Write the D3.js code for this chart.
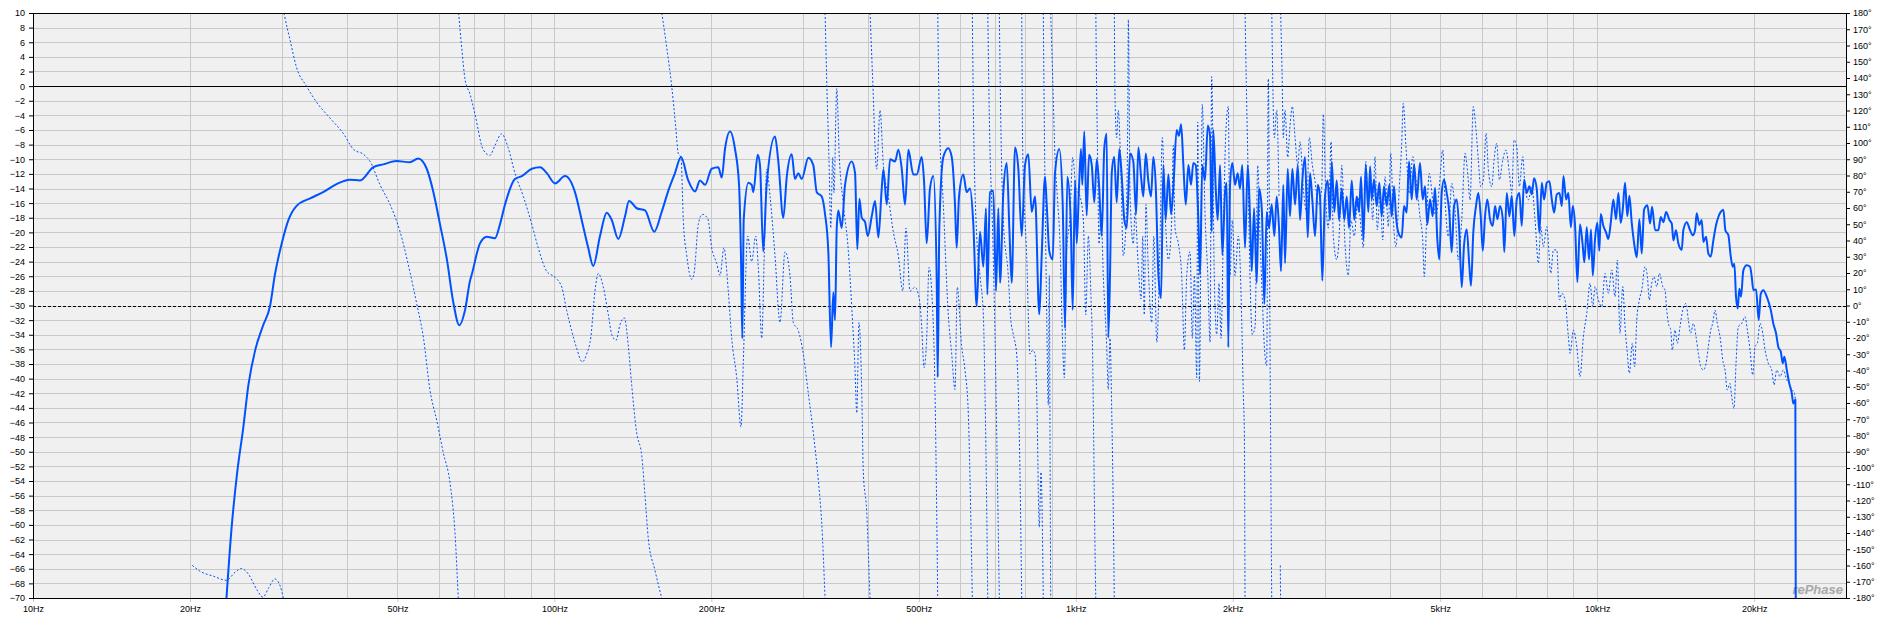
<!DOCTYPE html>
<html>
<head>
<meta charset="utf-8">
<title>Frequency / phase response</title>
<script src="https://d3js.org/d3.v7.min.js"></script>
<style>
  body { margin: 0; background: #fff; }
  .axis text { font-family: "Liberation Sans", Arial, sans-serif; font-size: 9px; fill: #000; }
  .axis line { stroke: #000; }
  .axis.bottom line { stroke: #c8c8c8; }
  .grid line { stroke: #c8c8c8; stroke-width: 1; shape-rendering: crispEdges; }
  .magnitude { fill: none; stroke: #0052ff; stroke-width: 2; stroke-linejoin: round; }
  .phase { fill: none; stroke: #0052ff; stroke-width: 1; stroke-dasharray: 2,2; }
</style>
</head>
<body>
<div id="chart"></div>
<script>

var xTickFreqs = [10, 20, 50, 100, 200, 500, 1000, 2000, 5000, 10000, 20000];
var xTickLabels = ["10Hz", "20Hz", "50Hz", "100Hz", "200Hz", "500Hz", "1kHz", "2kHz", "5kHz", "10kHz", "20kHz"];
var dbTicks = d3.range(-70, 11, 2);
var degTicks = d3.range(-180, 181, 10);

// [Hz, dB]
var magnitudePoints = [
  [23.2,-76],[23.5,-70],[24.05,-60.2],[24.65,-52.7],[25.3,-46.8],[25.9,-40.8],[26.7,-36.0],[27.6,-32.8],[28.5,-30.0],[29.1,-25.8],[30.0,-21.5],[30.9,-18.3],[32.0,-16.4],[34.0,-15.35],[36.0,-14.5],[38.2,-13.4],[40.5,-12.8],[42.4,-12.9],[44.9,-11.1],[47.0,-10.7],[49.8,-10.25],[52.8,-10.4],[54.8,-9.9],[56.9,-11.3],[58.6,-14.5],[60.3,-18.8],[62.2,-23.7],[64.0,-29.6],[65.7,-32.7],[67.4,-30.6],[68.9,-26.6],
  [69.4,-25.8],[72.0,-21.5],[74.2,-20.6],[76.9,-20.8],[78.7,-18.8],[80.4,-16.2],[84.0,-12.7],[86.6,-12.3],[90.5,-11.3],[93.9,-11.1],[96.7,-11.9],[100.3,-13.3],[104.8,-12.3],[109.5,-14.5],[112.8,-18.3],[116.1,-22.1],[118.7,-24.6],[122.3,-20.5],[126.0,-17.3],[128.8,-18.3],[132.6,-20.9],[136.6,-17.8],[139.0,-15.7],[143.8,-16.7],[149.2,-17.0],[155.4,-19.9],[160.6,-17.2],[165.4,-14.3],[170.3,-11.9],[174.9,-9.7],[180.6,-12.9],[186.1,-14.4],[190.2,-12.9],[194.5,-13.5],[200.3,-11.3],[206.2,-11.1],[209.4,-12.5],[212.4,-8.6],[217.2,-6.2],[222.0,-8.6],[226.0,-13.5],[228.0,-23.7],[229.3,-34.5],[230.7,-18.3],[235.5,-13.2],[239.0,-13.5],[240.7,-14.5],[245.4,-9.4],[247.9,-10.8],[251.5,-22.6],[255.3,-13.5],[264.9,-6.9],[268.8,-10.3],[274.8,-18.0],
  [279.0,-12.4],[285.2,-9.3],[289.3,-12.7],[293.6,-11.9],[298.1,-12.7],[306.9,-9.8],[313.7,-10.8],[318.5,-14.5],[325.6,-15.1],[330.4,-17.5],[335.2,-22.6],[339.3,-35.7],[342.7,-28.2],[345.3,-32.0],[347.9,-19.4],[350.4,-17.0],[355.6,-19.4],[360.9,-13.5],[371.7,-10.3],[377.2,-11.9],[381.0,-22.3],[384.5,-15.4],[388.6,-18.0],[394.3,-18.6],[399.0,-20.5],[406.1,-17.8],[412.1,-15.7],[418.1,-20.7],[424.4,-14.0],[427.5,-11.4],[433.9,-16.2],[440.3,-10.0],[450.1,-10.3],[456.7,-8.7],[463.6,-11.3],[470.4,-16.2],[477.3,-8.7],[487.9,-12.1],[495.3,-12.1],[506.3,-9.7],[511.5,-12.9],[517.6,-21.5],[525.2,-14.0],[533.0,-12.3],[541.0,-26.4],[543.4,-39.8],[547.3,-19.4],[557.1,-9.7],[569.4,-8.5],[578.1,-9.7],[586.5,-16.2],[590.9,-22.1],[597.0,-15.1],[608.4,-12.1],[617.6,-14.5],[626.7,-14.0],[635.9,-18.8],[645.5,-30.1],[655.0,-19.9],[664.7,-24.7],[672.6,-16.7],[676.5,-28.5],[684.6,-14.5],[694.6,-14.3],[703.0,-28.0],[710.2,-16.7],[715.6,-26.9],[726.1,-14.5],[737.1,-10.5],[745.6,-19.4],[753.4,-26.9],[764.6,-8.4],[775.8,-11.3],[787.5,-20.5],[799.0,-10.8],[810.7,-9.3],[823.0,-17.2],[835.1,-15.1],[851.1,-31.2],[860.2,-23.1],[872.8,-12.4],[879.4,-16.2],[889.6,-22.6],[903.0,-23.7],[912.2,-11.9],[929.6,-8.6],[943.8,-16.2],[953.5,-33.1],[963.2,-12.4],[977.7,-18.3],[986.3,-30.6],[996.5,-12.9],
  [1004,-21.5],[1014,-14.0],[1023,-8.6],[1029,-13.5],[1038,-6.2],[1049,-17.7],[1060,-9.4],[1073,-10.8],[1085,-15.9],[1097,-10.0],[1108,-13.5],[1121,-20.5],[1134,-8.5],[1146,-6.5],[1154,-34.4],[1163,-25.8],[1172,-11.9],[1185,-9.7],[1198,-15.9],[1212,-8.6],[1225,-12.4],[1239,-18.3],[1252,-19.4],[1271,-9.2],[1289,-10.3],[1305,-17.5],[1318,-8.4],[1334,-12.4],[1347,-15.1],[1362,-9.2],[1377,-12.9],[1394,-15.1],[1408,-9.7],[1423,-13.5],[1440,-25.8],[1457,-29.0],[1472,-10.8],[1487,-18.3],[1505,-12.1],[1523,-17.5],[1538,-14.0],[1561,-6.0],[1577,-6.8],[1592,-5.2],[1608,-10.8],[1625,-16.2],[1644,-10.8],[1663,-13.5],[1680,-10.5],[1698,-10.8],[1718,-18.3],[1731,-25.8],[1748,-10.8],[1769,-12.9],[1791,-5.4],[1809,-6.8],[1822,-19.9],[1835,-6.0],[1855,-14.0],[1871,-18.3],[1891,-10.8],[1910,-23.1],[1933,-14.5],[1947,-13.2],[1961,-35.7],[1976,-13.5],[1996,-10.5],[2020,-13.5],[2044,-11.9],[2065,-14.0],[2086,-10.8],[2111,-22.1],[2137,-10.8],[2158,-17.8],[2175,-25.3],[2197,-16.7],[2223,-26.9],[2246,-14.0],[2273,-16.7],[2299,-29.8],[2323,-17.2],[2347,-19.4],[2375,-16.2],[2403,-20.5],[2428,-15.1],[2453,-19.4],[2475,-25.3],[2500,-13.5],[2519,-24.2],[2549,-11.3],[2575,-17.8],[2602,-11.3],[2633,-16.2],[2665,-10.8],[2692,-18.3],[2719,-12.9],[2752,-9.7],[2785,-20.7],[2813,-11.9],[2842,-15.6],[2876,-20.5],[2911,-13.5],[2940,-15.1],[2970,-26.6],[3005,-15.1],[3042,-12.9],[3073,-18.3],[3096,-10.3],[3132,-17.2],[3165,-12.9],[3198,-18.3],[3236,-14.0],[3273,-18.3],[3308,-15.1],[3342,-19.4],[3382,-12.9],[3421,-18.3],[3457,-15.1],[3493,-17.2],[3524,-12.4],[3560,-21.0],[3598,-10.8],[3639,-17.2],
  [3668,-11.0],[3694,-15.5],[3732,-12.8],[3777,-16.4],[3820,-13.2],[3861,-17.8],[3900,-13.7],[3947,-16.4],[3993,-13.5],[4035,-17.8],[4077,-13.7],[4112,-17.8],[4154,-20.0],[4217,-20.7],[4261,-16.4],[4311,-17.3],[4355,-10.3],[4408,-15.5],[4453,-10.7],[4506,-15.5],[4572,-10.5],[4627,-15.5],[4674,-13.7],[4722,-18.9],[4779,-15.5],[4836,-17.8],[4886,-13.9],[4935,-20.9],[4979,-23.7],[5032,-14.6],[5084,-12.8],[5144,-14.6],[5204,-17.3],[5259,-22.7],[5313,-16.4],[5377,-15.5],[5439,-20.0],[5497,-27.5],[5553,-21.8],[5620,-19.6],[5685,-24.6],[5727,-27.3],[5785,-20.0],[5855,-16.4],[5915,-14.6],[5978,-17.8],[6032,-22.5],[6093,-17.8],[6155,-15.5],[6229,-18.2],[6304,-19.1],[6369,-16.4],[6434,-18.2],[6511,-16.4],[6589,-18.2],[6635,-22.7],[6706,-14.6],[6784,-17.8],[6856,-15.0],[6935,-20.5],[7009,-15.5],[7090,-14.6],[7166,-19.1],[7239,-12.8],[7326,-14.6],[7411,-13.7],[7490,-14.8],[7566,-12.6],[7657,-14.1],[7746,-20.0],[7828,-13.2],[7908,-15.5],[8003,-13.2],[8096,-13.0],[8182,-15.5],[8266,-17.3],[8365,-14.8],[8462,-14.6],[8552,-16.4],[8614,-12.3],[8716,-15.5],[8804,-14.6],[8900,-19.3],[8978,-16.4],[9068,-19.1],[9160,-26.8],[9268,-18.9],[9380,-21.8],[9447,-24.1],[9548,-19.3],[9645,-23.7],[9730,-19.6],[9804,-25.9],[9904,-20.9],[10005,-18.7],[10093,-22.5],[10156,-17.5],[10273,-19.1],[10397,-20.0],[10503,-20.9],[10615,-18.7],[10737,-15.5],[10866,-18.2],[10978,-14.6],[11094,-18.7],[11193,-16.9],[11307,-13.2],[11422,-17.8],[11524,-15.0],[11647,-18.7],[11766,-21.4],[11908,-23.4],[12044,-18.2],
  [12173,-22.9],[12300,-16.9],[12480,-16.3],[12630,-18.8],[12741,-16.5],[12912,-19.7],[13101,-19.7],[13240,-17.9],[13394,-18.6],[13555,-17.2],[13753,-18.3],[13900,-18.8],[13996,-21.1],[14162,-19.7],[14306,-21.5],[14525,-22.4],[14626,-19.7],[14850,-18.6],[15066,-19.7],[15248,-20.4],[15403,-19.7],[15517,-17.4],[15697,-19.0],[15864,-18.3],[15978,-21.3],[16170,-20.6],[16335,-22.9],[16509,-23.3],[16700,-21.1],[16901,-19.0],[17073,-17.9],[17255,-17.2],[17455,-16.9],[17609,-19.7],[17845,-20.4],[18035,-23.3],[18194,-24.7],[18323,-24.3],[18459,-28.8],[18600,-30.4],[18729,-27.7],[18871,-28.8],[19064,-25.2],[19352,-24.5],[19639,-24.7],[19785,-26.1],[19927,-27.9],[20166,-27.8],[20404,-32.0],[20588,-28.4],[20826,-27.9],[21141,-28.8],[21519,-30.6],[21768,-32.5],[22025,-33.8],[22254,-35.7],[22491,-36.3],[22689,-37.9],[22851,-37.0],[23095,-38.8],[23362,-40.7],[23611,-42.0],[23775,-43.4],[23988,-42.9],[24060,-90]
];

// [Hz, degrees], wrapped to +-180
var phasePoints = [
  [20.2,-159.9],[20.9,-163.5],[22.2,-166.6],[23.5,-169.1],[24.4,-164.2],[25.1,-161.8],[25.9,-165.4],[26.9,-175.1],[27.6,-179.5],[28.3,-173.9],[29.1,-168.3],[29.8,-172.7],[30.2,-180],[30.3,180],[30.4,177.6],[31.1,163.8],[32.0,146.8],[33.5,134.7],[35.0,125],[37.1,115.4],[39.4,105.7],[41.2,96],[43.0,93.1],[44.3,88.7],[46.3,74.2],[48.4,62.1],[50.6,45.2],[52.8,21],[54.4,1.6],[56.1,-20.2],[57.7,-51.7],[59.5,-71],[61.2,-90.4],[63.1,-109.8],[64.5,-141.2],[65.4,-180],[65.5,180],[66.4,158.9],[67.4,139],[68.9,130],
  [70.4,117.8],[73.0,96],[75.2,92.4],[76.9,98.4],[79.2,105.7],[81.5,97.2],[84.0,81.5],[87.2,67],[90.5,50],[93.1,35.5],[96.7,21],[100.3,17.3],[103.3,11.3],[105.6,-3.2],[107.9,-15.4],[110.3,-26.2],[113.1,-34.7],[115.3,-29.9],[117.5,-19],[119.6,8.9],[121.4,19.7],[124.1,11.3],[126.9,-5.7],[128.8,-17.8],[131.3,-21.4],[133.6,-11.7],[136.2,-7.6],[138.6,-25],[140.7,-49.2],[143.8,-78.3],[147.1,-92.8],[149.2,-117],[151.4,-143.6],[155.9,-163],[160.6,-180],[160.7,180],[164.2,158.9],[167.9,134.7],[170.8,110.5],[172.8,93.6],[174.9,91.2],[176.7,52.4],[179.4,30.6],[183.4,16.1],[185.5,21],[188.8,50],[192.1,56.1],[196.8,53.6],[200.3,35.5],[204.8,25.8],[207.8,18.5],[211.4,35.5],[215.5,8.9],[218.8,-20.2],[223.7,-44.4],[228.0,-74.7],[230.3,-34.7],[234.8,42.7],[239.0,27],[243.2,42.7],[246.1,23.4],[249.8,-20.2],[252.7,33.1],[255.3,83.9],[259.2,67],[264.9,30.6],[270.8,-10.5],[276.9,33.1],
  [283.0,18.5],[287.2,-10.5],[293.6,-15.4],[300.2,-29.9],[306.9,-54.1],[313.7,-78.3],[320.7,-107.3],[325.6,-134],[330.4,-180],[330.5,180],[332.8,139.6],[336.6,83.9],[338.8,47.6],[341.8,91.2],[343.7,69.4],[347.9,133.5],[351.9,91.2],[358.3,62.1],[366.3,33.1],[371.7,-0.8],[377.2,-39.6],[380.1,-66.2],[383.8,-10.5],[388.6,-54.1],[391.2,-102.5],[397.1,-126.7],[401.7,-167.9],[403.0,-180],[403.1,180],[407.7,139.6],[415.0,83.9],[421.2,120.2],[427.5,86.3],[436.9,67],[446.7,45.2],[456.7,30.6],[465.6,8.9],[472.4,47.6],[480.8,8.9],[491.6,11.3],[501.0,4],[506.3,-12.9],[511.5,-38.3],[517.6,-20.2],[522.9,23.4],[529.2,8.9],[537.0,-54.1],[541.0,-126.7],[543.4,-180],[543.5,180],[547.3,115.4],[557.1,62.1],[569.4,-5.7],[578.1,-29.9],[586.5,-51.7],[592.4,11.3],[604.0,-25],[613.0,-39.6],[622.0,-66.2],[628.6,-126.7],[633.1,-180],[633.2,180],[635.9,125],[645.5,42.7],[655.0,18.5],[664.7,-5.7],[669.7,-54.1],[674.8,-126.7],[677.8,-180],[677.9,180],[682.6,115.4],[692.9,42.7],[699.8,-17.8],[705.1,-78.3],[713.3,-180],[713.4,180],[717.8,115.4],[726.1,52.4],[742.1,18.5],[750.0,-8.1],[758.7,-17.8],[770.1,-29.9],[779.0,-78.3],[787.5,-180],[787.6,180],[790.8,96],[804.9,30.6],[816.7,-29.9],[826.5,-27.5],[835.1,-29.9],[841.4,-54.1],[851.1,-136.4],[857.4,-102.5],[866.1,-180],[866.2,180],[869.9,115.4],[879.4,-5.7],[885.6,-61.3],[889.6,18.5],[892.5,-90],[895.0,-180],[895.1,180],[903.0,139.6],[912.2,91.2],[921.6,67],[932.7,37.9],[943.8,-25],[950.5,-44.4],[960.5,33.1],[974.7,54.9],[986.3,91.2],[1001,71.8],[1019,67],
  [1034,52.4],[1045,-5.7],[1057,42.7],[1069,6.4],[1077,-29.9],[1082,-80.7],[1088,-146],[1092,-180],[1092.5,180],[1095,146.8],[1101,91.2],[1108,37.9],[1118,57.3],[1129,18.5],[1146,-25],[1154,-51.7],[1163,-20.2],[1172,-66.2],[1180,-126.7],[1185,-180],[1185.5,180],[1189,127.5],[1198,103.3],[1206,120.2],[1221,79.1],[1233,30.6],[1247,47.6],[1258,115.4],[1261,175.9],[1271,67],[1289,37.9],[1299,57.3],[1318,23.4],[1334,4],[1344,42.7],[1353,-5.7],[1363,62.1],[1377,23.4],[1398,-10.5],[1411,42.7],[1430,-22.6],[1451,42.7],[1465,103.3],[1483,57.3],[1505,28.2],[1527,52.4],[1538,98.4],[1550,47.6],[1573,37.9],[1596,18.5],[1615,-27.5],[1632,18.5],[1656,33.1],[1673,-20.2],[1688,18.5],[1706,-44.4],[1713,112.9],[1726,-46.8],[1738,42.7],[1748,123.8],[1769,57.3],[1791,18.5],[1809,-22.6],[1822,140.8],[1843,18.5],[1863,-17.8],[1882,13.7],[1899,-20.2],[1918,42.7],[1939,105.7],[1961,122.6],[1976,18.5],[1996,52.4],[2020,18.5],[2050,42.7],[2081,-10.5],[2095,-54.1],[2105,-78.3],[2111,-180],[2112,180],[2123,137.2],[2137,91.2],[2158,18.5],[2180,-17.8],[2207,-12.9],[2233,86.3],[2256,42.7],[2279,4],[2299,-25],[2323,-37.1],[2340,139.6],[2358,-29.9],[2375,-180],[2376,180],[2403,103.3],[2428,120.2],[2453,67],[2467,-160],[2470,-180],[2471,180],[2486,144.4],[2500,103.3],[2519,120.2],[2549,91.2],[2575,110.5],[2602,122.6],[2633,103.3],[2665,86.3],[2692,100.8],[2731,71.8],[2772,57.3],[2804,103.3],[2842,86.3],[2876,76.6],[2918,62.1],[2962,71.8],[2983,117.8],[3015,67],[3050,47.6],[3087,100.8],[3118,42.7],[3165,28.2],[3212,54.9],[3236,86.3],[3283,37.9],[3331,18.5],[3371,52.4],[3421,42.7],[3473,67],[3524,47.6],[3560,35.5],[3598,88.7],[3639,62.1],
  [3668,83.4],[3710,52.6],[3748,91.6],[3787,46.5],[3832,69.0],[3878,40.3],[3918,79.3],[3976,48.5],[4018,93.7],[4064,52.6],[4112,36.2],[4173,73.1],[4217,99.8],[4246,124.4],[4297,97.8],[4360,69.0],[4428,91.6],[4506,73.1],[4572,54.7],[4627,40.3],[4660,17.8],[4710,54.7],[4764,81.4],[4836,65.0],[4909,54.7],[4979,73.1],[5055,95.7],[5107,65.0],[5181,42.4],[5259,75.2],[5337,58.8],[5415,28.0],[5497,52.6],[5579,93.7],[5636,83.4],[5703,65.0],[5785,122.4],[5855,108.0],[5915,89.6],[5978,73.1],[6048,77.3],[6121,106.0],[6183,83.4],[6277,73.1],[6341,89.6],[6417,99.8],[6492,77.3],[6589,89.6],[6683,95.7],[6784,81.4],[6856,69.0],[6926,101.9],[7009,97.8],[7090,73.1],[7197,91.6],[7270,73.1],[7378,65.0],[7490,73.1],[7599,52.6],[7712,26.0],[7794,48.5],[7883,36.2],[8003,48.5],[8147,19.8],[8239,34.2],[8365,34.2],[8462,3.4],[8552,7.5],[8676,3.4],[8804,-19.2],[8870,-29.4],[9000,-15.1],[9136,-25.3],[9268,-43.8],[9407,-19.2],[9548,-4.8],[9688,13.7],[9804,-0.7],[9904,11.6],[10049,3.4],[10201,-0.7],[10350,19.8],[10503,7.5],[10661,21.9],[10818,5.5],[10929,28.0],[11059,-17.1],[11193,11.6],[11307,-13.0],[11422,-29.4],[11524,-41.7],[11676,-23.3],[11796,-37.6],[11908,-8.9],[12044,3.4],
  [12173,9.5],[12350,23.9],[12480,17.7],[12585,3.4],[12720,13.6],[12850,17.7],[13008,11.6],[13158,19.8],[13357,11.6],[13490,9.5],[13593,-2.8],[13690,-11.0],[13836,-15.1],[13932,-27.4],[14100,-15.1],[14243,-23.3],[14415,-13.0],[14588,-2.8],[14802,1.3],[14953,-8.9],[15112,-17.1],[15287,-11.0],[15471,-19.2],[15629,-29.4],[15795,-37.6],[15978,-39.7],[16170,-35.6],[16335,-25.3],[16509,-15.1],[16652,-11.0],[16823,-2.8],[16995,-11.0],[17235,-21.2],[17405,-33.5],[17583,-39.7],[17762,-52.0],[17975,-47.9],[18111,-56.1],[18296,-63.3],[18459,-35.6],[18647,-13.0],[18930,-11.0],[19208,-6.9],[19404,-15.1],[19639,-27.4],[19872,-42.8],[20075,-25.3],[20280,-23.3],[20523,-11.0],[20770,-17.1],[20982,-27.4],[21290,-35.6],[21612,-39.7],[21833,-48.9],[22095,-39.7],[22419,-43.8],[22749,-39.7],[23095,-45.8],[23362,-47.9],[23611,-52.0],[23850,-53.0],[23988,-58]
];

var width = 1890,
  height = 617,
  margin = {top: 13, right: 44, bottom: 19, left: 33};

var x = d3.scaleLog()
  .domain([10, 30000])
  .range([margin.left, width - margin.right]);

var yDb = d3.scaleLinear()
  .domain([-70, 10])
  .range([height - margin.bottom, margin.top]);

var yDeg = d3.scaleLinear()
  .domain([-180, 180])
  .range([height - margin.bottom, margin.top]);

var svg = d3.select("#chart")
  .append("svg")
    .attr("width", width)
    .attr("height", height)
    .style("display", "block");

svg.append("rect")
  .attr("width", width)
  .attr("height", height)
  .attr("fill", "#fff");

svg.append("defs").append("clipPath")
    .attr("id", "plot-clip")
  .append("rect")
    .attr("x", x.range()[0])
    .attr("y", yDb.range()[1])
    .attr("width", x.range()[1] - x.range()[0])
    .attr("height", yDb.range()[0] - yDb.range()[1]);

svg.append("rect")
  .attr("x", x.range()[0])
  .attr("y", yDb.range()[1])
  .attr("width", x.range()[1] - x.range()[0])
  .attr("height", yDb.range()[0] - yDb.range()[1])
  .attr("fill", "#f0f0f0");

// grid
var grid = svg.append("g").attr("class", "grid");

grid.selectAll(".vgrid")
  .data(x.ticks().filter((f) => f > 10 && f < 30000))
  .enter().append("line")
    .attr("x1", (d) => Math.round(x(d)) + 0.5)
    .attr("x2", (d) => Math.round(x(d)) + 0.5)
    .attr("y1", yDb.range()[1])
    .attr("y2", yDb.range()[0]);

grid.selectAll(".hgrid")
  .data(dbTicks.filter((d) => d > -70 && d < 10))
  .enter().append("line")
    .attr("x1", x.range()[0])
    .attr("x2", x.range()[1])
    .attr("y1", (d) => Math.round(yDb(d)) + 0.5)
    .attr("y2", (d) => Math.round(yDb(d)) + 0.5);

// 0 dB and 0 degree reference lines
svg.append("line")
  .attr("x1", x.range()[0]).attr("x2", x.range()[1])
  .attr("y1", Math.round(yDb(0)) + 0.5).attr("y2", Math.round(yDb(0)) + 0.5)
  .attr("stroke", "#000").attr("shape-rendering", "crispEdges");

svg.append("line")
  .attr("x1", x.range()[0]).attr("x2", x.range()[1])
  .attr("y1", Math.round(yDeg(0)) + 0.5).attr("y2", Math.round(yDeg(0)) + 0.5)
  .attr("stroke", "#000").attr("stroke-dasharray", "3,2")
  .attr("shape-rendering", "crispEdges");

svg.append("text")
  .attr("x", x.range()[1] - 3)
  .attr("y", yDb.range()[0] - 4)
  .attr("text-anchor", "end")
  .style("font-family", "'Liberation Sans', Arial, sans-serif")
  .style("font-size", "13px")
  .style("font-weight", "bold")
  .style("font-style", "italic")
  .style("fill", "#a8a8a8")
  .text("rePhase");

var plot = svg.append("g").attr("clip-path", "url(#plot-clip)");

// phase: break the line where it wraps
var phaseSegs = [];
phasePoints.forEach(function(p, i) {
  if (i > 0 && Math.abs(p[1] - phasePoints[i - 1][1]) > 180) phaseSegs.push(null);
  phaseSegs.push(p);
});

var phaseLine = d3.line()
  .defined((d) => d !== null)
  .curve(d3.curveMonotoneX)
  .x((d) => x(d[0]))
  .y((d) => yDeg(d[1]));

plot.append("path")
  .datum(phaseSegs)
  .attr("class", "phase")
  .attr("d", phaseLine);

var magLine = d3.line()
  .curve(d3.curveMonotoneX)
  .x((d) => x(d[0]))
  .y((d) => yDb(d[1]));

plot.append("path")
  .datum(magnitudePoints)
  .attr("class", "magnitude")
  .attr("d", magLine);

// axes
var left = svg.append("g")
  .attr("class", "axis")
  .attr("transform", "translate(" + x.range()[0] + ",0)")
  .call(d3.axisLeft(yDb).tickValues(dbTicks).tickSize(4).tickPadding(4));

var right = svg.append("g")
  .attr("class", "axis")
  .attr("transform", "translate(" + x.range()[1] + ",0)")
  .call(d3.axisRight(yDeg).tickValues(degTicks).tickSize(4).tickPadding(3)
    .tickFormat((d) => d + "\u00b0"));

var bottom = svg.append("g")
  .attr("class", "axis bottom")
  .attr("transform", "translate(0," + yDb.range()[0] + ")")
  .call(d3.axisBottom(x).tickValues(xTickFreqs).tickSize(4).tickPadding(4)
    .tickFormat((d, i) => xTickLabels[i]));

[left, right, bottom].forEach(function(g) {
  g.select(".domain").remove();
  g.attr("font-family", null).attr("font-size", null);
});

svg.append("rect")
  .attr("x", x.range()[0] + 0.5)
  .attr("y", yDb.range()[1] + 0.5)
  .attr("width", x.range()[1] - x.range()[0])
  .attr("height", yDb.range()[0] - yDb.range()[1])
  .attr("fill", "none")
  .attr("stroke", "#000")
  .attr("shape-rendering", "crispEdges");

</script>
</body>
</html>
